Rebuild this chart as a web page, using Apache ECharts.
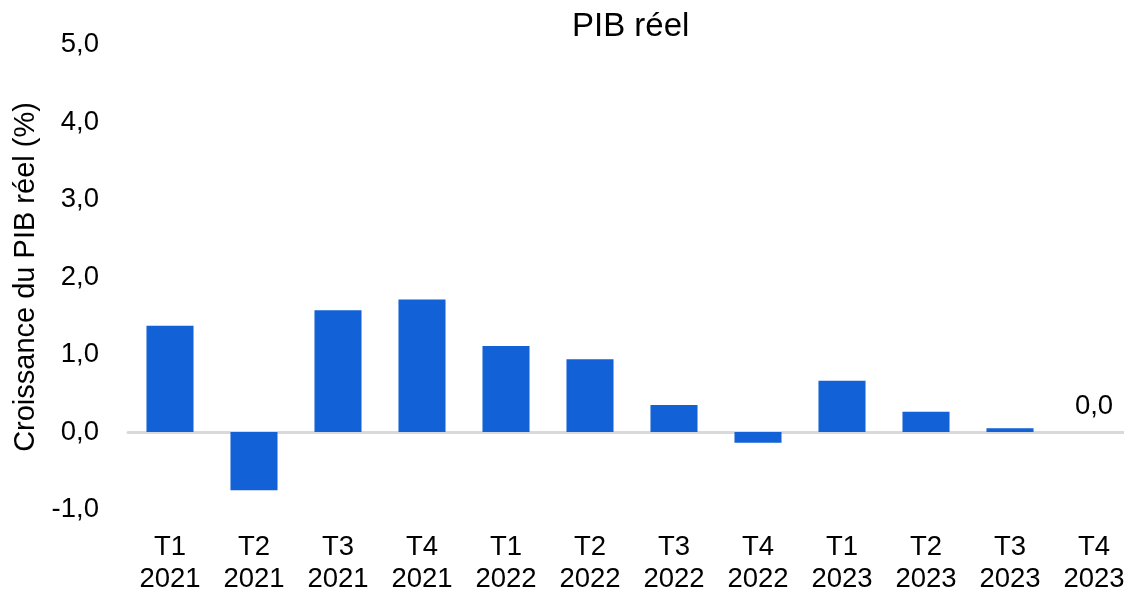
<!DOCTYPE html>
<html>
<head>
<meta charset="utf-8">
<script src="https://cdn.jsdelivr.net/npm/echarts@6/dist/echarts.min.js"></script>
<style>
  html, body { margin: 0; padding: 0; background: #fff; }
  #chart { width: 1124px; height: 598px; }
</style>
</head>
<body>
<div id="chart"></div>
<script>
// trimestres et croissance du PIB réel (%)
const quarters = ['T1\n2021', 'T2\n2021', 'T3\n2021', 'T4\n2021', 'T1\n2022', 'T2\n2022',
  'T3\n2022', 'T4\n2022', 'T1\n2023', 'T2\n2023', 'T3\n2023', 'T4\n2023']
const growth = [1.37, -0.75, 1.57, 1.71, 1.11, 0.94, 0.35, -0.14, 0.66, 0.26, 0.05, 0.0]
const labelledIndex = [11]

const fmt = v => v.toFixed(1).replace('.', ',')
const font = 'Liberation Sans, Arial, sans-serif'

const chart = echarts.init(document.getElementById('chart'))
chart.setOption({
  animation: false,
  title: {
    text: 'PIB réel',
    left: 567,
    top: 5,
    textStyle: { fontFamily: font, fontSize: 33, fontWeight: 'normal', color: '#000' }
  },
  grid: { left: 128, right: -12, top: 44.5, bottom: 88.5, outerBoundsMode: 'none', containLabel: false },
  xAxis: {
    type: 'category',
    data: quarters,
    axisLine: { onZero: true, lineStyle: { color: '#d9d9d9', width: 3 } },
    axisTick: { show: false },
    axisLabel: {
      fontFamily: font, fontSize: 27.5, color: '#000', lineHeight: 32,
      margin: 22, interval: 0
    }
  },
  yAxis: {
    type: 'value',
    min: -1,
    max: 5,
    interval: 1,
    splitLine: { show: false },
    axisLine: { show: false },
    axisLabel: { fontFamily: font, fontSize: 27.5, color: '#000', margin: 29, formatter: fmt },
    name: 'Croissance du PIB réel (%)',
    nameLocation: 'middle',
    nameGap: 79,
    nameTextStyle: { fontFamily: font, fontSize: 29, color: '#000' }
  },
  series: [{
    type: 'bar',
    barWidth: '56%',
    itemStyle: { color: '#1261d6' },
    data: growth.map((v, i) => labelledIndex.includes(i)
      ? { value: v, label: { show: true, position: 'top', distance: 12, formatter: p => fmt(p.value),
          fontFamily: font, fontSize: 27.5, color: '#000' } }
      : v)
  }]
})
</script>
</body>
</html>
